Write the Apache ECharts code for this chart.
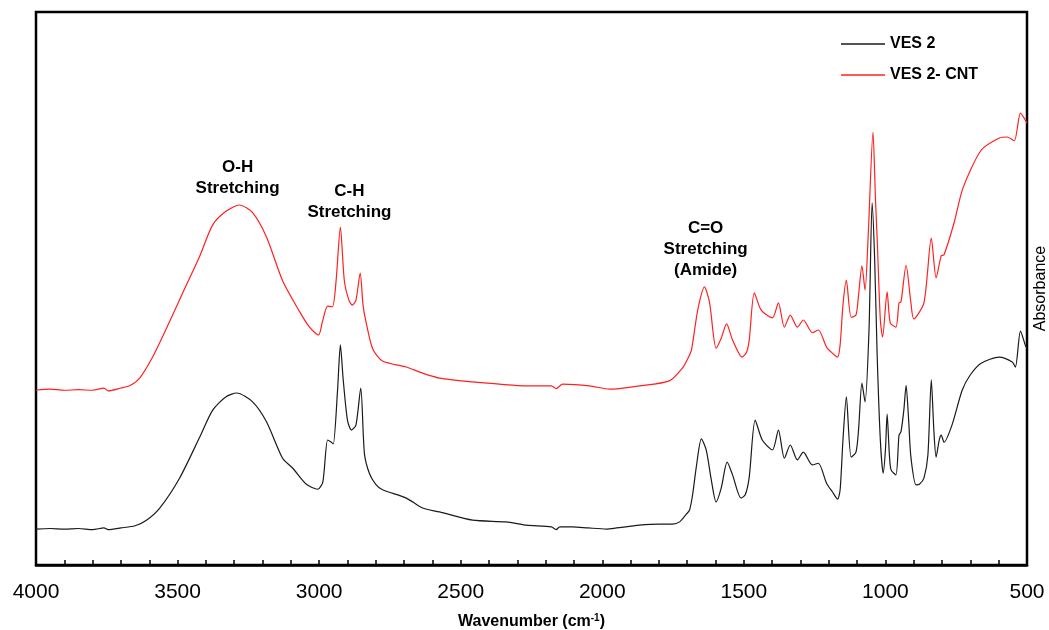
<!DOCTYPE html>
<html>
<head>
<meta charset="utf-8">
<script src="https://cdn.jsdelivr.net/npm/echarts@6/dist/echarts.min.js"></script>
<style>
html,body{margin:0;padding:0;background:#fff;}
#chart{width:1049px;height:630px;}
</style>
</head>
<body>
<div id="chart"></div>
<script>
// Wavenumber (cm-1) and absorbance (arbitrary units) for VES 2
const wnVES2 = [4000,3950,3900,3850,3800,3760,3745,3700,3650,3610,3563,3493,3423,3376,3330,3291,3235,3186,3129,3093,3045,3005,2987,2970,2957,2950,2935,2925,2915,2900,2886,2870,2853,2840,2822,2800,2776,2692,2635,2575,2458,2340,2268,2180,2163,2150,2105,2050,1985,1950,1869,1800,1752,1727,1703,1692,1681,1668,1650,1633,1615,1598,1580,1559,1540,1510,1495,1481,1460,1435,1399,1378,1357,1336,1311,1290,1258,1237,1208,1187,1169,1160,1150,1138,1121,1104,1095,1083,1072,1058,1047,1038,1029,1018,1008,1000,994,986,980,963,952,945,935,927,918,910,892,880,864,850,838,829,821,810,803,793,765,729,700,662,598,552,541,523,505,500];
const absVES2 = [0.065,0.066,0.065,0.066,0.064,0.067,0.064,0.067,0.071,0.081,0.103,0.157,0.230,0.280,0.304,0.311,0.295,0.259,0.193,0.175,0.146,0.137,0.150,0.226,0.222,0.219,0.316,0.398,0.335,0.262,0.244,0.253,0.320,0.201,0.165,0.146,0.136,0.121,0.103,0.096,0.081,0.078,0.072,0.069,0.064,0.069,0.069,0.067,0.065,0.067,0.072,0.074,0.074,0.078,0.092,0.099,0.127,0.177,0.228,0.208,0.154,0.114,0.139,0.186,0.163,0.121,0.127,0.159,0.262,0.226,0.208,0.244,0.193,0.217,0.190,0.204,0.181,0.184,0.148,0.132,0.119,0.136,0.226,0.304,0.195,0.204,0.244,0.329,0.295,0.425,0.655,0.552,0.376,0.226,0.166,0.208,0.273,0.199,0.172,0.163,0.235,0.241,0.280,0.325,0.262,0.195,0.145,0.146,0.157,0.199,0.335,0.244,0.195,0.226,0.235,0.222,0.253,0.316,0.344,0.365,0.376,0.367,0.358,0.423,0.396,0.392];

// Wavenumber (cm-1) and absorbance (arbitrary units) for VES 2- CNT
const wnCNT = [4000,3950,3900,3850,3800,3760,3745,3700,3670,3634,3588,3540,3482,3423,3376,3328,3281,3235,3186,3129,3070,3034,3002,2988,2970,2953,2940,2925,2911,2895,2883,2870,2855,2845,2835,2811,2776,2692,2635,2575,2458,2363,2268,2180,2163,2140,2045,1975,1869,1763,1717,1700,1685,1663,1639,1621,1598,1580,1561,1540,1506,1490,1481,1463,1439,1399,1378,1357,1336,1311,1290,1258,1237,1208,1187,1169,1160,1150,1138,1121,1104,1095,1083,1072,1060,1044,1035,1029,1018,1010,994,983,963,952,945,927,910,900,864,838,821,803,793,758,726,662,598,570,545,523,500];
const absCNT = [0.316,0.318,0.316,0.317,0.316,0.320,0.315,0.320,0.324,0.338,0.376,0.427,0.492,0.557,0.615,0.640,0.651,0.637,0.593,0.514,0.459,0.430,0.416,0.441,0.468,0.467,0.515,0.611,0.514,0.479,0.470,0.479,0.528,0.470,0.441,0.391,0.369,0.358,0.347,0.338,0.331,0.327,0.324,0.324,0.319,0.327,0.324,0.318,0.324,0.333,0.356,0.371,0.389,0.461,0.503,0.474,0.392,0.410,0.436,0.407,0.376,0.385,0.407,0.492,0.461,0.447,0.474,0.430,0.452,0.430,0.443,0.420,0.425,0.394,0.383,0.376,0.398,0.470,0.515,0.448,0.452,0.488,0.541,0.497,0.606,0.783,0.660,0.588,0.443,0.412,0.494,0.438,0.430,0.474,0.476,0.542,0.474,0.445,0.474,0.591,0.519,0.559,0.561,0.618,0.682,0.750,0.772,0.774,0.767,0.817,0.799];

// Band annotations: text, anchor wavenumber, anchor absorbance
const noteText = ['O-H\nStretching', 'C-H\nStretching', 'C=O\nStretching\n(Amide)'];
const noteWn = [3288, 2893, 1635];
const noteAbs = [0.701, 0.656, 0.571];

const seriesNames = ['VES 2', 'VES 2- CNT'];
const xTicks = [4000, 3500, 3000, 2500, 2000, 1500, 1000, 500];

const FONT = "'Liberation Sans', Arial, Helvetica, sans-serif";
const pairs = (xs, ys) => xs.map((x, i) => [x, ys[i]]);

const chart = echarts.init(document.getElementById('chart'), null, {renderer: 'canvas'});
chart.setOption({
  animation: false,
  backgroundColor: '#fff',
  grid: {left: 36, right: 22, top: 12, bottom: 65, show: true, borderColor: '#000', borderWidth: 2.5,
         backgroundColor: 'transparent', containLabel: false, outerBoundsMode: 'none'},
  legend: {
    orient: 'vertical', left: 836, top: 31,
    icon: 'rect', itemWidth: 44, itemHeight: 1.5, itemGap: 15,
    data: seriesNames,
    textStyle: {fontFamily: FONT, fontWeight: 'bold', fontSize: 16, color: '#000'}
  },
  xAxis: {
    type: 'value', inverse: true, min: 500, max: 4000, interval: 500,
    name: '{b|Wavenumber (cm}{s|-1}{b|)}', nameLocation: 'middle', nameGap: 48,
    nameTextStyle: {
      rich: {
        b: {fontFamily: FONT, fontWeight: 'bold', fontSize: 16, color: '#000'},
        s: {fontFamily: FONT, fontWeight: 'bold', fontSize: 10, color: '#000', padding: [0, 0, 8, 0]}
      }
    },
    axisLine: {show: true, onZero: false, lineStyle: {color: '#000', width: 2.5}},
    axisTick: {show: true, inside: true, length: 5, lineStyle: {color: '#000', width: 1.5}},
    minorTick: {show: true, splitNumber: 5, length: 5, lineStyle: {color: '#000', width: 1.5}},
    splitLine: {show: false},
    axisLabel: {
      margin: 17, fontFamily: FONT, fontSize: 21, color: '#000',
      formatter: v => (xTicks.indexOf(v) >= 0 ? String(v) : '')
    }
  },
  yAxis: {
    type: 'value', min: 0, max: 1, position: 'right',
    name: 'Absorbance', nameLocation: 'middle', nameRotate: 90, nameGap: 6,
    nameTextStyle: {fontFamily: FONT, fontSize: 16, color: '#000'},
    axisLine: {show: false}, axisTick: {show: false}, axisLabel: {show: false}, splitLine: {show: false}
  },
  series: [
    {
      name: seriesNames[0], type: 'line', data: pairs(wnVES2, absVES2),
      symbol: 'none', smooth: 0.25, color: '#1a1a1a',
      lineStyle: {color: '#1a1a1a', width: 1.2}
    },
    {
      name: seriesNames[1], type: 'line', data: pairs(wnCNT, absCNT),
      symbol: 'none', smooth: 0.25, color: '#ff2020',
      lineStyle: {color: '#ff2020', width: 1.2},
      markPoint: {
        symbol: 'circle', symbolSize: 0, silent: true,
        label: {
          show: true, position: 'inside', formatter: p => p.name,
          fontFamily: FONT, fontWeight: 'bold', fontSize: 17, lineHeight: 21, color: '#000', align: 'center'
        },
        data: noteText.map((t, i) => ({name: t, coord: [noteWn[i], noteAbs[i]]}))
      }
    }
  ]
});
</script>
</body>
</html>
